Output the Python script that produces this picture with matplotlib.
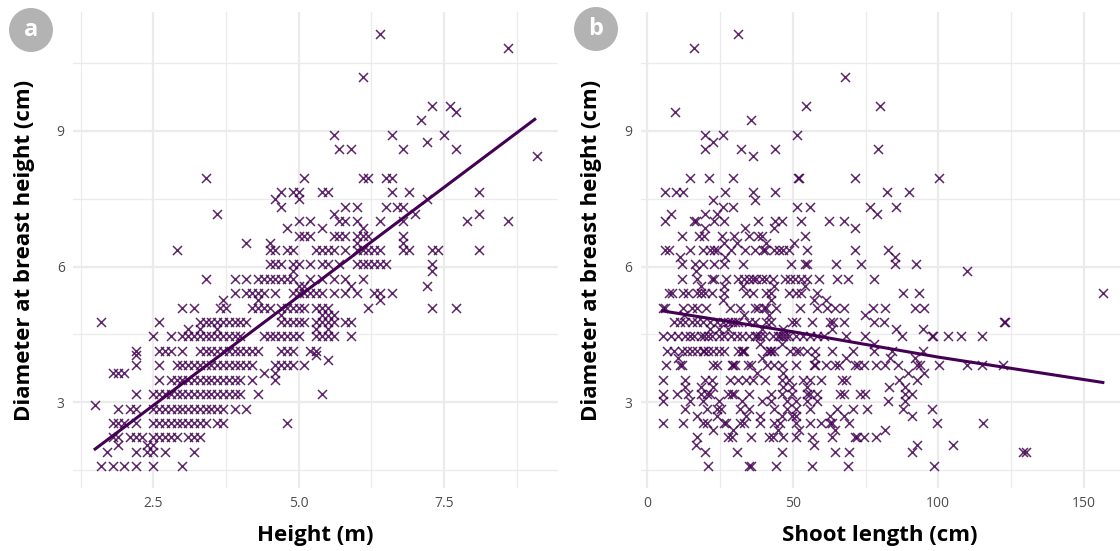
import matplotlib
matplotlib.use("Agg")
import matplotlib.pyplot as plt
from matplotlib.patches import Ellipse
from matplotlib.ticker import MultipleLocator

plt.rcParams['font.family'] = ['Open Sans', 'DejaVu Sans']

# ---- panel a: height (m) vs DBH (cm), grouped by DBH row ----
dbh_rows_a = [11.14, 10.82, 10.19, 9.55, 9.41, 9.23, 8.91, 8.75, 8.59, 8.44,
              7.96, 7.64, 7.50, 7.32, 7.16, 7.00, 6.84, 6.68, 6.51, 6.37,
              6.05, 5.90, 5.73, 5.57, 5.41, 5.25, 5.09, 4.93, 4.77, 4.62,
              4.46, 4.14, 4.05, 3.93, 3.82, 3.66, 3.50, 3.18, 2.95, 2.86,
              2.55, 2.23, 2.07, 1.91, 1.59]
height_rows_a = [
    [6.4], [8.6], [6.1], [7.3, 7.6], [7.7], [7.1], [5.6, 6.6, 7.5], [7.2],
    [5.7, 5.9, 6.8, 7.7], [9.1],
    [3.4, 5.1, 6.1, 6.2, 6.5, 6.6],
    [4.7, 4.9, 5.0, 5.4, 5.5, 6.6, 6.9, 8.1],
    [4.6, 5.0, 7.2],
    [4.7, 5.8, 6.0, 6.5, 6.7, 6.8],
    [3.6, 5.6, 7.0, 8.1],
    [5.0, 5.2, 5.7, 5.8, 6.0, 6.4, 6.8, 7.9, 8.6],
    [4.8, 5.4, 6.1],
    [5.0, 5.1, 5.2, 5.6, 5.7, 5.8, 6.0, 6.1, 6.2, 6.8],
    [4.1, 4.5, 6.0, 6.8],
    [2.9, 4.5, 4.6, 4.8, 4.9, 5.3, 5.4, 5.5, 5.6, 5.8, 6.0, 6.1, 6.2, 6.3,
     6.4, 6.8, 6.9, 7.3, 7.4, 8.1],
    [4.5, 4.6, 4.7, 4.9, 5.0, 5.2, 5.4, 5.5, 5.7, 6.0, 6.1, 6.2, 6.3, 6.4,
     6.5, 7.3],
    [4.9, 7.3],
    [3.4, 3.9, 4.1, 4.3, 4.4, 4.5, 4.6, 4.7, 4.8, 4.9, 5.2, 5.4, 5.6, 5.8, 6.1],
    [5.0, 5.1, 5.9, 7.2],
    [3.9, 4.1, 4.2, 4.3, 4.4, 4.6, 4.9, 5.0, 5.1, 5.2, 5.3, 5.4, 5.6, 5.8,
     6.0, 6.3, 6.4, 6.6],
    [3.7, 4.3, 6.4],
    [3.0, 3.2, 3.65, 3.75, 4.2, 4.3, 4.4, 4.5, 4.7, 4.8, 4.9, 5.0, 5.1, 5.3,
     5.4, 5.5, 6.2, 7.3, 7.7],
    [4.7, 5.4, 5.5, 5.6],
    [1.6, 2.6, 3.3, 3.4, 3.5, 3.6, 3.7, 3.8, 3.9, 4.0, 4.1, 4.7, 4.8, 4.9,
     5.0, 5.1, 5.3, 5.4, 5.5, 5.6, 5.8, 5.9],
    [3.1, 3.3, 3.6, 5.3, 5.5],
    [2.5, 2.8, 3.0, 3.1, 3.2, 3.3, 3.4, 3.5, 3.6, 3.7, 3.8, 3.9, 4.0, 4.4,
     4.5, 4.6, 4.7, 4.8, 4.9, 5.0, 5.3, 5.4, 5.5, 5.6, 5.9],
    [2.2, 2.6, 2.7, 2.8, 3.0, 3.3, 3.4, 3.5, 3.6, 3.7, 3.8, 3.9, 4.0, 4.1,
     4.2, 4.3, 4.7, 4.8, 4.9, 5.2, 5.3],
    [2.2, 5.3],
    [5.5],
    [2.2, 2.6, 2.9, 3.0, 3.1, 3.2, 3.3, 3.4, 3.5, 3.6, 3.7, 3.8, 3.9, 4.0,
     4.1, 4.2, 4.6, 4.7, 4.8, 4.9, 5.1],
    [1.8, 1.9, 2.0, 4.4, 4.6],
    [2.6, 2.8, 2.9, 3.0, 3.1, 3.2, 3.3, 3.4, 3.5, 3.6, 3.7, 3.8, 3.9, 4.0,
     4.2, 4.6],
    [2.2, 2.5, 2.6, 2.7, 2.8, 2.9, 3.0, 3.1, 3.2, 3.3, 3.4, 3.5, 3.6, 3.7,
     3.8, 3.9, 4.0, 4.3, 5.4],
    [1.5],
    [1.9, 2.1, 2.2, 2.5, 2.6, 2.7, 2.8, 2.9, 3.0, 3.1, 3.2, 3.3, 3.4, 3.5,
     3.6, 3.7, 3.9, 4.1],
    [1.8, 1.9, 2.0, 2.2, 2.5, 2.6, 2.7, 2.8, 2.9, 3.0, 3.1, 3.2, 3.3, 3.4,
     3.6, 3.7, 4.8],
    [1.8, 1.9, 2.1, 2.2, 2.3, 2.5, 2.6, 2.7, 2.8, 2.9, 3.1, 3.2, 3.3],
    [1.9, 2.4, 2.5],
    [1.7, 2.2, 2.4, 2.5, 2.7, 3.2],
    [1.6, 1.8, 2.0, 2.2, 2.5, 3.0],
]
fit_a_x = [1.5, 9.06]
fit_a_y = [1.97, 9.25]

# ---- panel b: shoot length (cm) vs DBH (cm) ----
dbh_rows_b = [11.14, 10.82, 10.19, 9.55, 9.41, 9.23, 8.91, 8.75, 8.59, 8.44,
              7.96, 7.64, 7.48, 7.32, 7.16, 7.00, 6.84, 6.68, 6.51, 6.37,
              6.21, 6.05, 5.90, 5.73, 5.57, 5.41, 5.25, 5.09, 4.93, 4.77,
              4.62, 4.46, 4.30, 4.14, 3.98, 3.82, 3.66, 3.50, 3.34, 3.18,
              3.02, 2.86, 2.70, 2.55, 2.39, 2.23, 2.07, 1.91, 1.59]
shoot_rows_b = [
    [31.0], [16.1], [67.8], [54.4, 80.0], [9.6], [35.6], [19.7, 26.0, 51.5],
    [22.5], [19.7, 32.2, 44.0, 79.4], [36.2],
    [14.7, 21.3, 29.5, 51.6, 52.0, 71.4, 100.4],
    [5.9, 9.8, 12.3, 26.7, 36.2, 44.0, 82.3, 89.9],
    [22.7, 36.9],
    [25.8, 29.5, 51.4, 56.0, 76.5, 85.5],
    [8.0, 19.7, 24.0, 79.0],
    [5.9, 16.0, 16.6, 23.0, 26.2, 38.1, 44.0, 46.1, 52.9, 62.4, 67.6],
    [19.7, 33.5, 43.4, 71.3],
    [11.7, 17.6, 19.3, 25.6, 29.9, 35.0, 38.1, 39.3, 54.1],
    [26.2, 30.7, 40.9, 50.4],
    [5.9, 7.4, 14.7, 19.0, 21.5, 23.0, 24.0, 28.6, 33.5, 36.9, 39.7, 40.5,
     43.6, 45.1, 46.7, 48.5, 54.9, 71.5, 82.6],
    [11.1, 26.7, 85.0],
    [12.0, 16.3, 19.0, 23.0, 26.4, 32.8, 49.5, 54.1, 54.9, 64.9, 73.5, 85.1,
     92.5],
    [16.6, 110.0],
    [12.0, 17.2, 22.1, 23.0, 27.0, 31.3, 33.2, 35.0, 36.2, 37.2, 39.3, 40.9,
     43.0, 47.3, 49.1, 50.7, 52.8, 54.7, 59.0, 65.1, 68.8, 78.0],
    [18.4, 26.4, 32.8, 43.4, 54.1],
    [7.4, 8.6, 12.3, 14.1, 17.2, 18.4, 19.7, 22.1, 26.4, 34.0, 36.2, 40.9,
     42.4, 48.5, 51.0, 52.8, 58.4, 87.8, 93.4],
    [25.8, 42.4, 57.1, 61.4],
    [5.3, 6.1, 12.3, 15.4, 17.2, 20.0, 28.3, 31.9, 36.9, 38.1, 39.9, 40.9,
     44.2, 52.5, 58.4, 61.8, 64.5, 67.6, 77.4, 81.7, 92.1, 95.2],
    [12.7, 33.2, 41.8, 74.9],
    [9.0, 11.1, 12.9, 15.4, 17.2, 19.0, 21.5, 24.0, 25.8, 27.6, 28.9, 30.1,
     31.3, 35.0, 36.9, 40.9, 42.4, 49.8, 51.0, 56.5, 62.7, 63.9, 67.6, 77.8,
     81.4, 122.6, 123.0],
    [21.5, 24.6, 27.6, 39.3, 46.7, 63.3, 85.4, 94.6],
    [5.5, 8.0, 10.4, 12.9, 14.7, 16.0, 18.4, 19.5, 20.9, 22.1, 24.6, 26.4,
     28.6, 30.7, 32.6, 35.0, 36.9, 37.5, 38.7, 40.5, 43.0, 44.8, 45.5, 46.7,
     47.5, 48.5, 51.0, 53.5, 55.9, 58.4, 60.8, 68.2, 74.9, 87.6, 97.7, 98.3,
     103.2, 107.7, 114.9],
    [38.7, 46.1, 78.0],
    [6.8, 9.2, 11.7, 13.5, 15.4, 17.2, 19.0, 19.5, 20.9, 22.7, 24.6, 26.4,
     31.3, 32.6, 33.0, 33.2, 41.2, 42.0, 42.4, 43.6, 49.1, 51.0, 52.2, 54.7,
     57.7, 63.3, 70.6, 78.0, 84.2, 94.6],
    [10.4, 39.3, 57.7, 68.2, 83.5, 92.1],
    [6.4, 11.1, 11.7, 22.7, 24.0, 28.9, 29.5, 30.1, 34.4, 35.6, 41.2, 43.6,
     46.1, 51.0, 57.1, 57.7, 61.4, 64.5, 65.7, 71.3, 72.5, 74.3, 78.6, 81.7,
     86.0, 92.8, 93.7, 100.1, 110.0, 114.9, 122.2],
    [37.5, 46.7, 89.7, 95.2],
    [5.5, 12.9, 19.7, 22.1, 28.3, 31.3, 33.8, 36.2, 40.5, 46.1, 48.5, 53.4,
     55.9, 59.6, 67.0, 68.2, 86.6, 92.8],
    [12.9, 18.4, 22.7, 46.7, 49.8, 54.7, 82.9, 88.5],
    [5.5, 10.2, 14.1, 18.4, 20.3, 21.5, 27.6, 28.9, 29.9, 35.0, 42.4, 46.1,
     49.8, 54.7, 55.9, 58.4, 66.3, 67.6, 73.1, 74.9, 88.5, 90.9],
    [5.2, 14.7, 19.0, 24.6, 32.6, 39.3, 42.4, 47.9, 51.0, 54.7, 58.4, 82.7,
     88.5],
    [12.9, 20.3, 24.0, 25.2, 31.9, 35.0, 43.6, 47.9, 51.0, 55.9, 65.1, 70.6,
     75.6, 87.8, 97.7],
    [17.2, 24.0, 33.8, 38.7, 46.1, 49.8, 51.0, 62.7, 67.6, 90.9],
    [5.2, 12.3, 19.0, 20.3, 26.4, 27.0, 31.9, 33.2, 38.7, 43.6, 45.5, 51.0,
     55.9, 59.6, 62.7, 63.3, 69.4, 99.5, 115.5],
    [22.7, 29.5, 44.8, 52.2, 64.5, 81.7],
    [17.2, 27.6, 28.9, 35.6, 41.8, 43.0, 46.7, 51.0, 56.5, 63.3, 71.3, 71.9,
     74.3, 78.6],
    [16.6, 57.1, 92.8, 105.0],
    [19.7, 30.7, 46.1, 64.5, 69.4, 90.9, 129.0, 130.2],
    [20.9, 34.8, 35.6, 44.2, 56.5, 68.8, 98.6],
]
extra_b_x = [156.6]
extra_b_y = [5.41]
fit_b_x = [5.2, 50, 100, 156.6]
fit_b_y = [5.02, 4.56, 4.0, 3.44]

PURPLE = '#440154'
GRID = '#ebebeb'
W, H = 1120, 551
TOP, BOT = 12, 488

def flatten(levels, rows):
    xs, ys = [], []
    for lev, row in zip(levels, rows):
        xs.extend(row)
        ys.extend([lev] * len(row))
    return xs, ys

ha, da = flatten(dbh_rows_a, height_rows_a)
sb, db = flatten(dbh_rows_b, shoot_rows_b)
sb += extra_b_x
db += extra_b_y

fig = plt.figure(figsize=(W / 100, H / 100), dpi=100)
fig.patch.set_facecolor('white')

ax_a = fig.add_axes([73 / W, 1 - BOT / H, (558 - 73) / W, (BOT - TOP) / H])
ax_b = fig.add_axes([640.5 / W, 1 - BOT / H, (1120 - 640.5) / W, (BOT - TOP) / H])

def style(ax, xmaj, xmin_, xlabel):
    ax.set_facecolor('white')
    for s in ax.spines.values():
        s.set_visible(False)
    ax.xaxis.set_major_locator(MultipleLocator(xmaj))
    ax.xaxis.set_minor_locator(MultipleLocator(xmin_))
    ax.yaxis.set_major_locator(MultipleLocator(3))
    ax.yaxis.set_minor_locator(MultipleLocator(1.5))
    ax.grid(True, which='major', color=GRID, lw=1.6)
    ax.grid(True, which='minor', color=GRID, lw=0.9)
    ax.set_axisbelow(True)
    ax.tick_params(which='both', length=0, labelsize=10, labelcolor='#4d4d4d',
                   pad=6)
    ax.set_xlabel(xlabel, fontsize=16, fontweight='bold', color='black')
    ax.set_ylabel('Diameter at breast height (cm)', fontsize=16,
                  fontweight='bold', color='black')
    ax.xaxis.set_label_coords(0.5, -47 / (BOT - TOP), transform=ax.transAxes)
    ax.xaxis.label.set_va('center')
    ax.yaxis.set_label_coords(-38 / (ax.get_position().width * W), 0.5)

ax_a.scatter(ha, da, marker='x', s=42, linewidths=1.1, color=PURPLE, alpha=0.85,
             zorder=3)
ax_a.plot(fit_a_x, fit_a_y, color=PURPLE, lw=2.2, zorder=4)
ax_a.set_xlim(1.12, 9.46)
ax_a.set_ylim(1.11, 11.62)
style(ax_a, 2.5, 1.25, 'Height (m)')
ax_a.xaxis.set_major_formatter(plt.FuncFormatter(lambda v, p: f'{v:.1f}'))
ax_a.yaxis.set_major_formatter(plt.FuncFormatter(lambda v, p: f'{v:.0f}'))

ax_b.scatter(sb, db, marker='x', s=42, linewidths=1.1, color=PURPLE, alpha=0.85,
             zorder=3)
ax_b.plot(fit_b_x, fit_b_y, color=PURPLE, lw=2.2, zorder=4)
ax_b.set_xlim(-2.4, 162.5)
ax_b.set_ylim(1.11, 11.62)
style(ax_b, 50, 25, 'Shoot length (cm)')
ax_b.xaxis.set_major_formatter(plt.FuncFormatter(lambda v, p: f'{v:.0f}'))
ax_b.yaxis.set_major_formatter(plt.FuncFormatter(lambda v, p: f'{v:.0f}'))

# panel badges
for cx, cy, lab in [(31, 30, 'a'), (596, 29, 'b')]:
    fig.add_artist(Ellipse((cx / W, 1 - cy / H), 44 / W, 44 / H,
                           transform=fig.transFigure, facecolor='#b3b3b3',
                           edgecolor='none'))
    fig.text(cx / W, 1 - cy / H, lab, ha='center', va='center', color='white',
             fontsize=17, fontweight='bold')

fig.savefig('out.png', dpi=100)
